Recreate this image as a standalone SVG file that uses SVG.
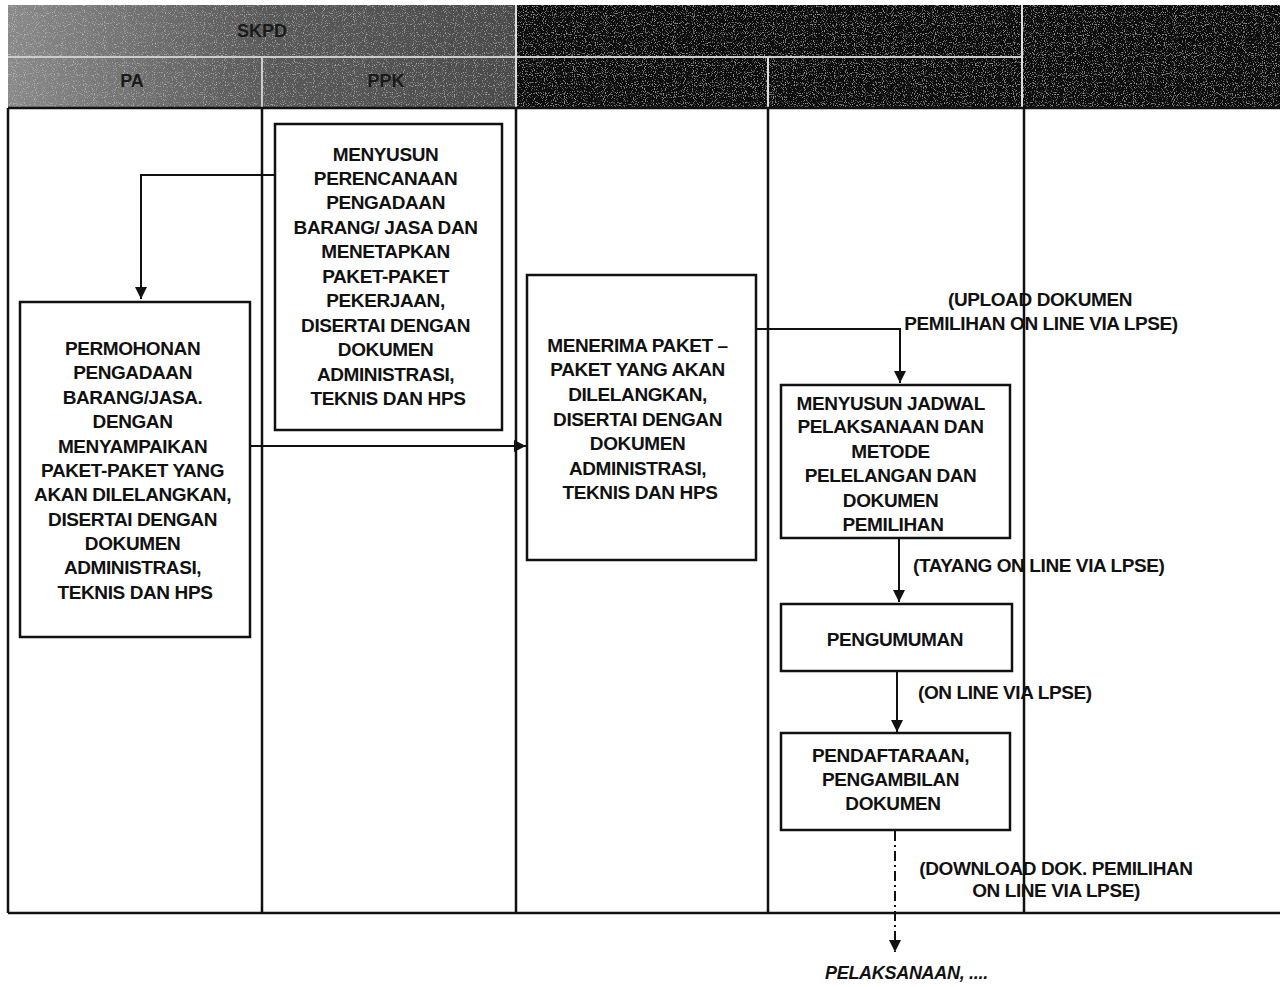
<svg xmlns="http://www.w3.org/2000/svg" width="1280" height="987" viewBox="0 0 1280 987">
<defs>
<style>
.t{font-family:"Liberation Sans",Arial,sans-serif;font-weight:bold;font-size:19px;letter-spacing:-0.4px;fill:#111;text-anchor:middle}
.lbl{font-family:"Liberation Sans",Arial,sans-serif;font-weight:bold;font-size:19px;letter-spacing:-0.4px;fill:#111}
.box{fill:#fff;stroke:#111;stroke-width:2.5}
.ln{stroke:#111;stroke-width:2.5;fill:none}
.c{stroke:#111;stroke-width:2;fill:none}
.hd{font-family:"Liberation Sans",Arial,sans-serif;font-weight:bold;font-size:18px;fill:#1a1a1a;text-anchor:middle}
</style>
<marker id="ah" viewBox="0 0 10 10" refX="10" refY="5" markerWidth="6" markerHeight="6" orient="auto" markerUnits="strokeWidth">
<path d="M0,0 L10,5 L0,10 z" fill="#111"/>
</marker>
<linearGradient id="gl" x1="0" y1="0" x2="1" y2="0">
<stop offset="0" stop-color="#8a8a8a"/>
<stop offset="0.5" stop-color="#5a5a5a"/>
<stop offset="1" stop-color="#4a4a4a"/>
</linearGradient>
<filter id="noise" x="0" y="0" width="1" height="1">
<feTurbulence type="fractalNoise" baseFrequency="0.9" numOctaves="1" seed="3" result="n"/>
<feColorMatrix in="n" type="matrix" values="0 0 0 0 1  0 0 0 0 1  0 0 0 0 1  0 0 0 1.6 -0.9" result="w"/>
<feComposite in="w" in2="SourceGraphic" operator="atop"/>
</filter>
</defs>
<rect width="1280" height="987" fill="#fff"/>

<g id="header">
<rect x="8" y="5" width="508" height="103" fill="url(#gl)" filter="url(#noise)"/>
<rect x="516" y="5" width="764" height="103" fill="#0c0c0c" filter="url(#noise)"/>
<line x1="8" y1="57" x2="1022" y2="57" stroke="#ccc" stroke-width="2"/>
<line x1="262" y1="57" x2="262" y2="107" stroke="#ccc" stroke-width="2"/>
<line x1="516" y1="5" x2="516" y2="107" stroke="#ddd" stroke-width="2"/>
<line x1="768" y1="57" x2="768" y2="107" stroke="#ddd" stroke-width="2"/>
<line x1="1022" y1="5" x2="1022" y2="107" stroke="#ddd" stroke-width="2"/>
<text class="hd" x="262" y="37">SKPD</text>
<text class="hd" x="132" y="87">PA</text>
<text class="hd" x="386" y="87">PPK</text>
</g>

<g id="lanes">
<line class="ln" x1="8" y1="108" x2="1280" y2="108"/>
<line class="ln" x1="8" y1="108" x2="8" y2="913"/>
<line class="ln" x1="262" y1="108" x2="262" y2="913"/>
<line class="ln" x1="516" y1="108" x2="516" y2="913"/>
<line class="ln" x1="768" y1="108" x2="768" y2="913"/>
<line class="ln" x1="1024" y1="108" x2="1024" y2="913"/>
<line class="ln" x1="8" y1="913" x2="1280" y2="913"/>
</g>

<g id="connectors">
<polyline class="c" points="275,175 141,175 141,299" marker-end="url(#ah)"/>
<line class="c" x1="250" y1="446" x2="526" y2="446" marker-end="url(#ah)"/>
<polyline class="c" points="756,329 900,329 900,383" marker-end="url(#ah)"/>
<line class="c" x1="899" y1="538" x2="899" y2="602" marker-end="url(#ah)"/>
<line class="c" x1="897" y1="671" x2="897" y2="732" marker-end="url(#ah)"/>
<line class="c" x1="895" y1="831" x2="895" y2="952" stroke-dasharray="10 4 2 4" marker-end="url(#ah)"/>
<text class="t" x="1040" y="306">(UPLOAD DOKUMEN</text>
<text class="t" x="1041" y="330">PEMILIHAN ON LINE VIA LPSE)</text>
<text class="lbl" x="913" y="572">(TAYANG ON LINE VIA LPSE)</text>
<text class="lbl" x="918" y="699">(ON LINE VIA LPSE)</text>
<text class="t" x="1056" y="875">(DOWNLOAD DOK. PEMILIHAN</text>
<text class="t" x="1056" y="897">ON LINE VIA LPSE)</text>
</g>

<g id="ppk-box">
<rect class="box" x="275" y="124" width="227" height="306"/>
<text class="t" x="388">
<tspan x="388" y="161">MENYUSUN</tspan>
<tspan x="388" y="185">PERENCANAAN</tspan>
<tspan x="388" y="209">PENGADAAN</tspan>
<tspan x="388" y="234">BARANG/ JASA DAN</tspan>
<tspan x="388" y="258">MENETAPKAN</tspan>
<tspan x="388" y="283">PAKET-PAKET</tspan>
<tspan x="388" y="307">PEKERJAAN,</tspan>
<tspan x="388" y="332">DISERTAI DENGAN</tspan>
<tspan x="388" y="356">DOKUMEN</tspan>
<tspan x="388" y="381">ADMINISTRASI,</tspan>
<tspan x="388" y="405">TEKNIS DAN HPS</tspan>
</text>
</g>

<g id="pa-box">
<rect class="box" x="20" y="302" width="230" height="335"/>
<text class="t" x="135">
<tspan x="135" y="355">PERMOHONAN</tspan>
<tspan x="135" y="379">PENGADAAN</tspan>
<tspan x="135" y="404">BARANG/JASA.</tspan>
<tspan x="135" y="428">DENGAN</tspan>
<tspan x="135" y="453">MENYAMPAIKAN</tspan>
<tspan x="135" y="477">PAKET-PAKET YANG</tspan>
<tspan x="135" y="501">AKAN DILELANGKAN,</tspan>
<tspan x="135" y="526">DISERTAI DENGAN</tspan>
<tspan x="135" y="550">DOKUMEN</tspan>
<tspan x="135" y="574">ADMINISTRASI,</tspan>
<tspan x="135" y="599">TEKNIS DAN HPS</tspan>
</text>
</g>

<g id="menerima-box">
<rect class="box" x="527" y="275" width="229" height="285"/>
<text class="t" x="640">
<tspan x="640" y="352">MENERIMA PAKET –</tspan>
<tspan x="640" y="376">PAKET YANG AKAN</tspan>
<tspan x="640" y="401">DILELANGKAN,</tspan>
<tspan x="640" y="426">DISERTAI DENGAN</tspan>
<tspan x="640" y="450">DOKUMEN</tspan>
<tspan x="640" y="475">ADMINISTRASI,</tspan>
<tspan x="640" y="499">TEKNIS DAN HPS</tspan>
</text>
</g>

<g id="jadwal-box">
<rect class="box" x="781" y="385" width="229" height="153"/>
<text class="t" x="893">
<tspan x="893" y="410">MENYUSUN JADWAL</tspan>
<tspan x="893" y="433">PELAKSANAAN DAN</tspan>
<tspan x="893" y="458">METODE</tspan>
<tspan x="893" y="482">PELELANGAN DAN</tspan>
<tspan x="893" y="507">DOKUMEN</tspan>
<tspan x="893" y="531">PEMILIHAN</tspan>
</text>
</g>

<g id="pengumuman-box">
<rect class="box" x="781" y="604" width="231" height="67"/>
<text class="t" x="895" y="646">PENGUMUMAN</text>
</g>

<g id="pendaftaran-box">
<rect class="box" x="781" y="733" width="229" height="97"/>
<text class="t" x="893">
<tspan x="893" y="762">PENDAFTARAAN,</tspan>
<tspan x="893" y="786">PENGAMBILAN</tspan>
<tspan x="893" y="810">DOKUMEN</tspan>
</text>
</g>

<g id="pelaksanaan">
<text x="825" y="979" font-family="Liberation Sans,Arial,sans-serif" font-weight="bold" font-style="italic" font-size="18" letter-spacing="-0.3" fill="#111">PELAKSANAAN, ....</text>
</g>
</svg>
